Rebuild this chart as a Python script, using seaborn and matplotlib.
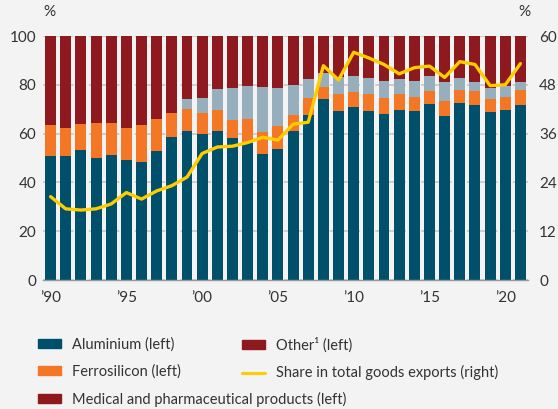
import numpy as np
import pandas as pd
import matplotlib
matplotlib.use("Agg")
import matplotlib.pyplot as plt
import seaborn as sns
from matplotlib.patches import Patch
from matplotlib.lines import Line2D
from matplotlib.ticker import FixedLocator

years = list(range(1990, 2022))
aluminium = [51.0, 51.0, 53.4, 50.1, 51.4, 49.3, 48.5, 53.0, 58.8, 61.2, 60.0, 61.2, 58.0, 56.0, 51.8, 53.7,
             61.0, 67.6, 74.2, 69.2, 70.9, 69.2, 68.0, 69.7, 69.2, 72.1, 67.2, 72.6, 71.7, 68.8, 69.7, 71.7]
ferrosilicon = [12.7, 11.2, 10.7, 14.4, 13.1, 12.8, 15.2, 12.8, 9.8, 8.7, 8.6, 8.4, 7.5, 9.9, 8.7, 9.5,
                6.5, 6.8, 4.7, 7.0, 6.1, 7.2, 6.4, 6.5, 6.0, 5.2, 6.0, 5.1, 5.6, 5.2, 5.1, 6.0]
medical = [0, 0, 0, 0, 0, 0, 0, 0, 0, 4.3, 6.0, 8.7, 13.3, 13.7, 18.7, 15.6,
           12.3, 7.8, 6.0, 7.0, 6.8, 6.2, 7.0, 6.0, 6.2, 6.5, 7.8, 4.9, 3.7, 4.6, 4.9, 3.3]
share_exports = [20.5, 17.5, 17.2, 17.5, 18.7, 21.5, 19.9, 21.9, 23.2, 25.3, 31.1, 32.7, 32.9, 33.8, 35.1, 34.4,
                 38.3, 38.8, 52.7, 49.2, 56.0, 54.6, 53.0, 50.7, 52.2, 52.6, 49.8, 53.7, 53.0, 47.8, 48.0, 53.2]
tick_labels = ["\u201990", "\u201995", "\u201900", "\u201905", "\u201910", "\u201915", "\u201920"]

# other = remainder up to 100
df = pd.DataFrame({"year": years, "aluminium": aluminium, "ferrosilicon": ferrosilicon, "medical": medical})
df["other"] = 100 - df[["aluminium", "ferrosilicon", "medical"]].sum(axis=1)
df["top_fe"] = df["aluminium"] + df["ferrosilicon"]
df["top_med"] = df["top_fe"] + df["medical"]
df["top_other"] = df["top_med"] + df["other"]

c_al = "#00506b"
c_fe = "#f37725"
c_med = "#97afbd"
c_oth = "#8e191e"
c_line = "#ffcc00"
txt = "#333333"
bg = "#f3f3f3"

sns.set_style("white")
plt.rcParams["font.family"] = ["Lato", "DejaVu Sans"]

fig = plt.figure(figsize=(5.58, 4.09), dpi=100, facecolor=bg)
ax = fig.add_axes([43 / 558, 1 - 280 / 409, 485 / 558, 244 / 409])
ax.set_facecolor(bg)

for col, color in [("top_other", c_oth), ("top_med", c_med), ("top_fe", c_fe), ("aluminium", c_al)]:
    sns.barplot(data=df, x="year", y=col, color=color, width=0.72, saturation=1,
                edgecolor="none", linewidth=0, ax=ax, zorder=2)

ax.set_xlim(-0.5, len(years) - 0.5)
ax.set_ylim(0, 100)
ax.set_yticks([0, 20, 40, 60, 80, 100])
ax.set_xlabel("")
ax.set_ylabel("")
ax.set_axisbelow(True)
ax.yaxis.grid(True, color="#c4c4c4", linestyle=(0, (5, 2.5)), linewidth=1.1, zorder=0)
for s in ["top", "left", "right"]:
    ax.spines[s].set_visible(False)
ax.spines["bottom"].set_color("#9a9a9a")
ax.spines["bottom"].set_linewidth(1.0)

major_pos = [years.index(y) for y in (1990, 1995, 2000, 2005, 2010, 2015, 2020)]
ax.set_xticks(major_pos)
ax.set_xticklabels(tick_labels)
ax.xaxis.set_minor_locator(FixedLocator(np.arange(-0.5, len(years), 1.0)))
ax.tick_params(axis="x", which="major", length=0, pad=8, labelsize=11, labelcolor=txt)
ax.tick_params(axis="x", which="minor", length=5, width=1.0, color="#9a9a9a", direction="out")
ax.tick_params(axis="y", length=0, pad=5, labelsize=11, labelcolor=txt)

ax2 = ax.twinx()
sns.lineplot(x=np.arange(len(years)), y=share_exports, color=c_line, linewidth=2.4, ax=ax2, zorder=5)
ax2.set_ylim(0, 60)
ax2.set_yticks([0, 12, 24, 36, 48, 60])
ax2.tick_params(axis="y", length=0, pad=8, labelsize=11, labelcolor=txt)
for s in ax2.spines.values():
    s.set_visible(False)
ax2.set_xlim(-0.5, len(years) - 0.5)

ax.annotate("%", xy=(0, 1), xycoords="axes fraction", xytext=(0, 12), textcoords="offset points",
            ha="left", va="bottom", fontsize=11, color=txt)
ax.annotate("%", xy=(1, 1), xycoords="axes fraction", xytext=(2, 12), textcoords="offset points",
            ha="right", va="bottom", fontsize=11, color=txt)

h1 = [Patch(color=c_al), Patch(color=c_fe), Patch(color=c_oth)]
l1 = ["Aluminium (left)", "Ferrosilicon (left)", "Medical and pharmaceutical products (left)"]
h2 = [Patch(color=c_oth), Line2D([], [], color=c_line, linewidth=2.2)]
l2 = ["Other\u00b9 (left)", "Share in total goods exports (right)"]
kw = dict(loc="upper left", frameon=False, fontsize=10.5, handlelength=1.6, handleheight=0.6,
          handletextpad=0.7, labelspacing=0.9, borderpad=0, borderaxespad=0, labelcolor=txt)
fig.legend(h1, l1, bbox_to_anchor=(38 / 558, 1 - 337 / 409), **kw)
fig.legend(h2, l2, bbox_to_anchor=(242 / 558, 1 - 337 / 409), **kw)

fig.savefig("out.png", dpi=100, facecolor=bg)
